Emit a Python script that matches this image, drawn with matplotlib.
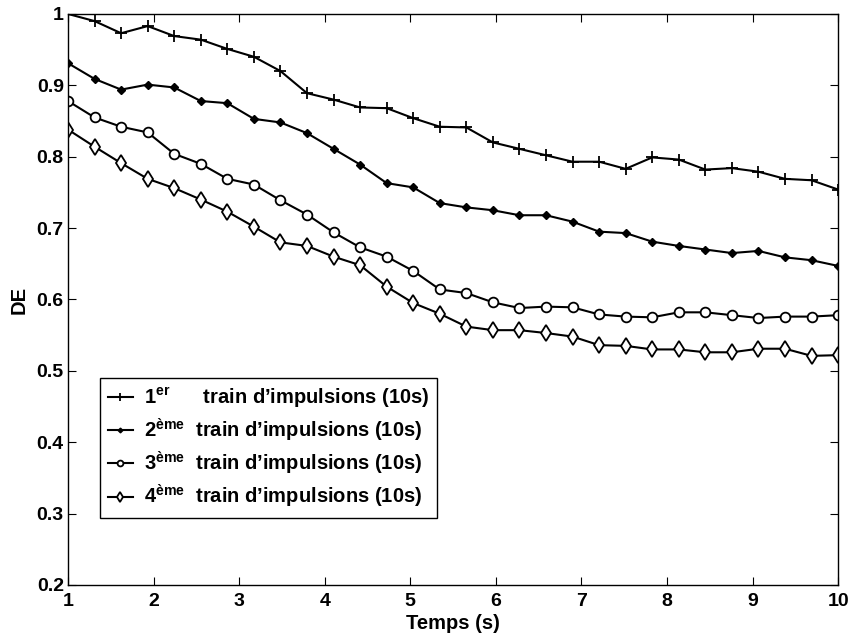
import numpy as np
import matplotlib
matplotlib.use('Agg')
import matplotlib.pyplot as plt

plt.rcParams['font.family'] = ['Liberation Sans', 'DejaVu Sans']
plt.rcParams['font.weight'] = 'bold'
plt.rcParams['mathtext.fontset'] = 'custom'
plt.rcParams['mathtext.rm'] = 'Liberation Sans:bold'
plt.rcParams['mathtext.bf'] = 'Liberation Sans:bold'
plt.rcParams['mathtext.it'] = 'Liberation Sans:bold'

# Data
temps = np.linspace(1, 10, 30)
train1 = [1.000, 0.990, 0.973, 0.983, 0.969, 0.964, 0.951, 0.940, 0.920, 0.889,
          0.880, 0.869, 0.868, 0.854, 0.842, 0.841, 0.820, 0.811, 0.802, 0.793,
          0.793, 0.783, 0.799, 0.796, 0.782, 0.784, 0.779, 0.769, 0.767, 0.754]
train2 = [0.931, 0.909, 0.894, 0.901, 0.897, 0.878, 0.875, 0.853, 0.848, 0.833,
          0.811, 0.789, 0.763, 0.757, 0.735, 0.729, 0.725, 0.718, 0.718, 0.709,
          0.695, 0.693, 0.681, 0.675, 0.670, 0.665, 0.668, 0.659, 0.655, 0.647]
train3 = [0.878, 0.855, 0.842, 0.834, 0.804, 0.790, 0.769, 0.761, 0.739, 0.719,
          0.694, 0.673, 0.660, 0.640, 0.614, 0.609, 0.596, 0.588, 0.590, 0.589,
          0.579, 0.576, 0.575, 0.582, 0.582, 0.578, 0.574, 0.576, 0.576, 0.578]
train4 = [0.838, 0.814, 0.791, 0.769, 0.756, 0.740, 0.723, 0.702, 0.680, 0.675,
          0.660, 0.648, 0.618, 0.595, 0.580, 0.562, 0.557, 0.557, 0.553, 0.548,
          0.536, 0.535, 0.530, 0.530, 0.526, 0.526, 0.531, 0.531, 0.521, 0.522]
labels = [r'$\mathbf{1^{er}}$      train d’impulsions (10s)',
          r'$\mathbf{2^{ème}}$  train d’impulsions (10s)',
          r'$\mathbf{3^{ème}}$  train d’impulsions (10s)',
          r'$\mathbf{4^{ème}}$  train d’impulsions (10s)']

fig = plt.figure(figsize=(8.5, 6.34), dpi=100)
ax = fig.add_axes([0.08, 0.0773, 0.906, 0.9007])

ax.plot(temps, train1, 'k-', marker='+', ms=9, mew=1.3, lw=1.5, label=labels[0])
ax.plot(temps, train2, 'k-', marker='D', ms=4, mfc='k', lw=1.5, label=labels[1])
ax.plot(temps, train3, 'k-', marker='o', ms=7, mfc='white', mew=1.3, lw=1.5, label=labels[2])
ax.plot(temps, train4, 'k-', marker='d', ms=8, mfc='white', mew=1.3, lw=1.5, label=labels[3])

ax.set_xlim(1, 10)
ax.set_ylim(0.2, 1)
ax.set_xticks(range(1, 11))
ax.set_yticks([0.2, 0.3, 0.4, 0.5, 0.6, 0.7, 0.8, 0.9, 1])
ax.set_yticklabels(['0.2', '0.3', '0.4', '0.5', '0.6', '0.7', '0.8', '0.9', '1'])
ax.tick_params(direction='in', top=True, right=True, labelsize=14, length=6)
ax.tick_params(axis='x', pad=6)
ax.tick_params(axis='y', pad=3)
for lab in ax.get_xticklabels() + ax.get_yticklabels():
    lab.set_fontweight('bold')
for s in ax.spines.values():
    s.set_linewidth(1.0)

ax.set_xlabel('Temps (s)', fontsize=14.5, fontweight='bold', labelpad=3)
ax.set_ylabel('DE', fontsize=14.5, fontweight='bold', labelpad=6)

leg = ax.legend(loc='lower left', bbox_to_anchor=(0.042, 0.117), fontsize=14.5,
                handlelength=1.2, handletextpad=0.55, labelspacing=0.3,
                borderpad=0.4, borderaxespad=0, markerscale=0.6,
                fancybox=False, edgecolor='k', framealpha=1)
leg.get_frame().set_linewidth(1.0)
for t in leg.get_texts():
    t.set_fontweight('bold')

fig.savefig('out.png', dpi=100)
